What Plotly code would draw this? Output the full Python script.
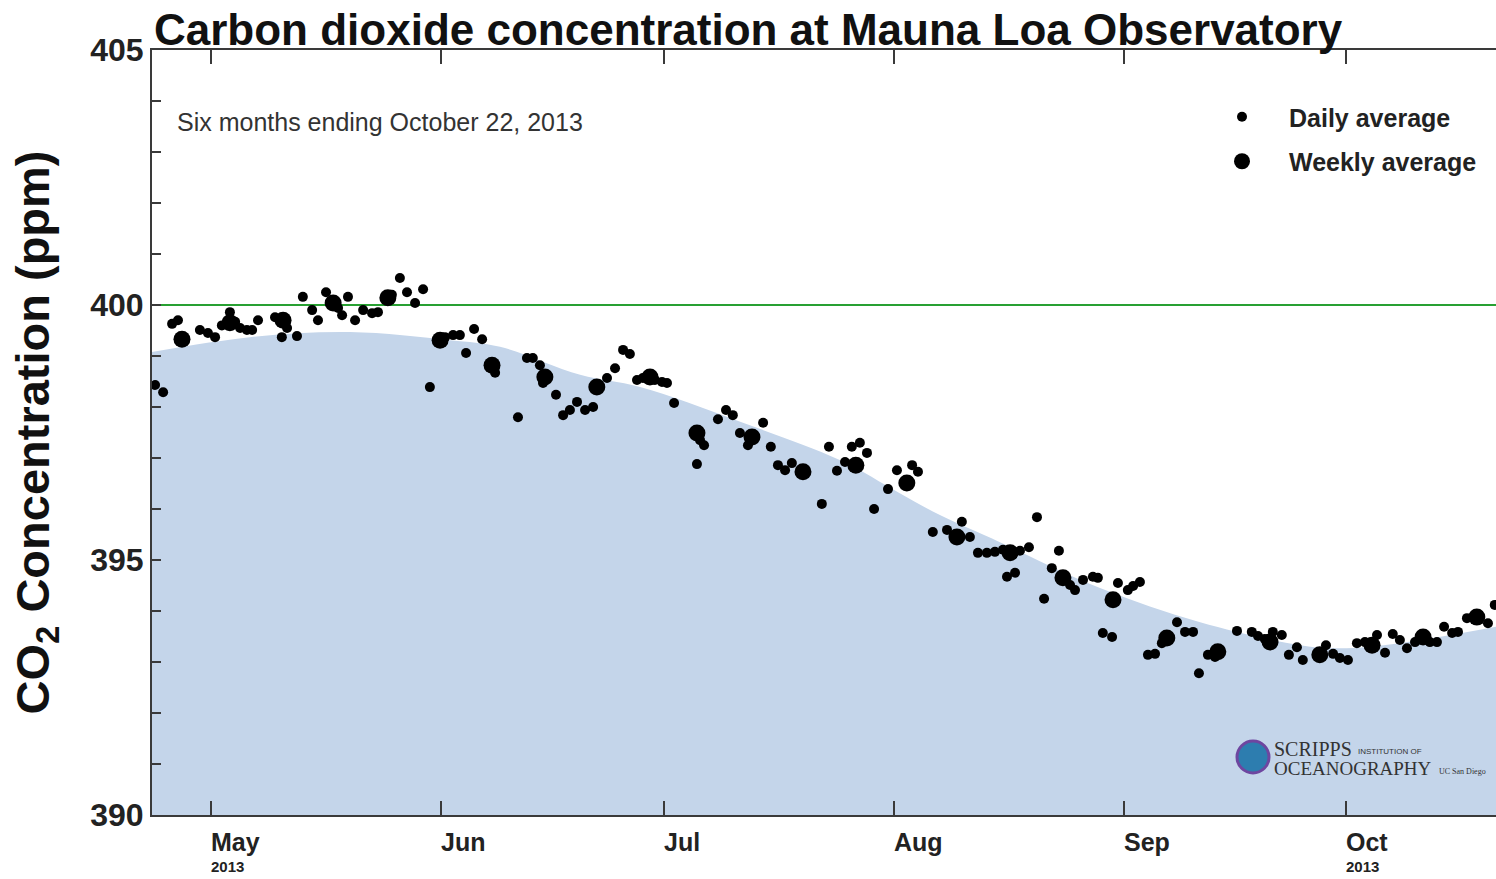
import plotly.graph_objects as go

# ---------------- data ----------------
daily_dates = [
    "2013-04-23 10:00", "2013-04-24 12:00", "2013-04-25 17:00", "2013-04-26 12:00",
    "2013-04-29 11:00", "2013-04-30 13:00", "2013-05-01 12:00", "2013-05-02 10:00",
    "2013-05-03 12:00", "2013-05-04 05:00", "2013-05-04 21:00", "2013-05-05 19:00",
    "2013-05-06 12:00", "2013-05-07 07:00", "2013-05-09 14:00", "2013-05-10 12:00",
    "2013-05-11 05:00", "2013-05-12 13:00", "2013-05-13 08:00", "2013-05-14 14:00",
    "2013-05-15 09:00", "2013-05-16 11:00", "2013-05-18 02:00", "2013-05-18 15:00",
    "2013-05-19 10:00", "2013-05-20 09:00", "2013-05-21 11:00", "2013-05-22 16:00",
    "2013-05-23 11:00", "2013-05-25 08:00", "2013-05-26 10:00", "2013-05-27 09:00",
    "2013-05-28 11:00", "2013-05-29 13:00", "2013-05-30 11:00", "2013-06-01 12:00",
    "2013-06-02 14:00", "2013-06-03 12:00", "2013-06-04 08:00", "2013-06-05 10:00",
    "2013-06-06 12:00", "2013-06-08 06:00", "2013-06-11 08:00", "2013-06-12 13:00",
    "2013-06-13 08:00", "2013-06-14 07:00", "2013-06-14 17:00", "2013-06-16 11:00",
    "2013-06-17 10:00", "2013-06-18 08:00", "2013-06-19 07:00", "2013-06-20 09:00",
    "2013-06-21 11:00", "2013-06-23 08:00", "2013-06-24 10:00", "2013-06-25 12:00",
    "2013-06-26 10:00", "2013-06-27 09:00", "2013-06-28 04:00", "2013-06-29 19:00",
    "2013-06-30 18:00", "2013-07-01 10:00", "2013-07-02 09:00", "2013-07-05 11:00",
    "2013-07-05 21:00", "2013-07-06 10:00", "2013-07-08 07:00", "2013-07-09 09:00",
    "2013-07-10 07:00", "2013-07-11 06:00", "2013-07-12 08:00", "2013-07-14 09:00",
    "2013-07-15 10:00", "2013-07-16 09:00", "2013-07-17 08:00", "2013-07-18 06:00",
    "2013-07-22 07:00", "2013-07-23 06:00", "2013-07-24 08:00", "2013-07-25 10:00",
    "2013-07-26 08:00", "2013-07-27 10:00", "2013-07-28 09:00", "2013-07-29 08:00",
    "2013-07-31 05:00", "2013-08-01 10:00", "2013-08-03 11:00", "2013-08-04 06:00",
    "2013-08-06 06:00", "2013-08-08 04:00", "2013-08-10 04:00", "2013-08-11 06:00",
    "2013-08-12 08:00", "2013-08-13 13:00", "2013-08-14 15:00", "2013-08-15 17:00",
    "2013-08-16 06:00", "2013-08-17 08:00", "2013-08-18 00:00", "2013-08-19 05:00",
    "2013-08-20 07:00", "2013-08-21 06:00", "2013-08-22 07:00", "2013-08-23 06:00",
    "2013-08-24 18:00", "2013-08-25 10:00", "2013-08-26 12:00", "2013-08-27 20:00",
    "2013-08-28 12:00", "2013-08-29 04:00", "2013-08-30 10:00", "2013-08-31 05:00",
    "2013-09-01 13:00", "2013-09-02 06:00", "2013-09-03 04:00", "2013-09-04 06:00",
    "2013-09-05 05:00", "2013-09-06 03:00", "2013-09-08 04:00", "2013-09-09 06:00",
    "2013-09-10 08:00", "2013-09-11 03:00", "2013-09-12 08:00", "2013-09-13 07:00",
    "2013-09-16 06:00", "2013-09-18 06:00", "2013-09-19 02:00", "2013-09-20 00:00",
    "2013-09-21 02:00", "2013-09-22 07:00", "2013-09-23 06:00", "2013-09-24 08:00",
    "2013-09-25 03:00", "2013-09-28 06:00", "2013-09-29 05:00", "2013-09-30 03:00",
    "2013-10-01 05:00", "2013-10-02 10:00", "2013-10-03 12:00", "2013-10-05 03:00",
    "2013-10-06 05:00", "2013-10-07 06:00", "2013-10-08 05:00", "2013-10-09 04:00",
    "2013-10-10 06:00", "2013-10-12 06:00", "2013-10-13 05:00", "2013-10-14 04:00",
    "2013-10-15 06:00", "2013-10-16 01:00", "2013-10-17 06:00", "2013-10-20 02:00",
    "2013-10-21 00:00",
]
daily_ppm = [
    398.43, 398.29, 399.63, 399.70,
    399.51, 399.45, 399.37, 399.60,
    399.86, 399.67, 399.55, 399.51,
    399.51, 399.70, 399.76, 399.37,
    399.55, 399.39, 400.16, 399.90,
    399.70, 400.25, 399.94, 399.80,
    400.16, 399.70, 399.90, 399.84,
    399.86, 400.20, 400.53, 400.25,
    400.04, 400.31, 398.39, 399.37,
    399.41, 399.41, 399.06, 399.53,
    399.33, 398.67, 397.80, 398.96,
    398.96, 398.82, 398.47, 398.24,
    397.84, 397.94, 398.10, 397.94,
    398.00, 398.57, 398.76, 399.12,
    399.04, 398.53, 398.57, 398.53,
    398.49, 398.47, 398.08, 396.88,
    397.35, 397.25, 397.76, 397.94,
    397.84, 397.49, 397.25, 397.69,
    397.22, 396.86, 396.76, 396.90,
    396.10, 397.22, 396.75, 396.92,
    397.22, 397.30, 397.10, 396.00,
    396.39, 396.76, 396.86, 396.73,
    395.55, 395.59, 395.75, 395.45,
    395.14, 395.14, 395.16, 395.20,
    394.67, 394.75, 395.18, 395.25,
    395.84, 394.24, 394.84, 395.18,
    394.51, 394.41, 394.61, 394.67,
    394.65, 393.57, 393.49, 394.55,
    394.41, 394.49, 394.57, 393.14,
    393.16, 393.37, 393.78, 393.59,
    393.59, 392.78, 393.14, 393.10,
    393.61, 393.59, 393.51, 393.45,
    393.59, 393.53, 393.14, 393.29,
    393.04, 393.33, 393.16, 393.08,
    393.04, 393.37, 393.39, 393.53,
    393.18, 393.55, 393.43, 393.27,
    393.39, 393.39, 393.39, 393.69,
    393.57, 393.59, 393.86, 393.76,
    394.12,
]

weekly_dates = [
    "2013-04-27 01:00", "2013-05-03 12:00", "2013-05-10 16:00", "2013-05-17 10:00",
    "2013-05-24 19:00", "2013-05-31 20:00", "2013-06-07 20:00", "2013-06-14 23:00",
    "2013-06-21 23:00", "2013-06-29 03:00", "2013-07-05 11:00", "2013-07-12 21:00",
    "2013-07-19 18:00", "2013-07-26 21:00", "2013-08-02 18:00", "2013-08-09 12:00",
    "2013-08-16 16:00", "2013-08-23 19:00", "2013-08-30 13:00", "2013-09-06 19:00",
    "2013-09-13 16:00", "2013-09-20 17:00", "2013-09-27 10:00", "2013-10-04 11:00",
    "2013-10-11 08:00", "2013-10-18 14:00",
]
weekly_ppm = [
    399.33, 399.65, 399.70, 400.04,
    400.14, 399.31, 398.82, 398.59,
    398.39, 398.59, 397.49, 397.41,
    396.73, 396.86, 396.51, 395.45,
    395.14, 394.65, 394.22, 393.47,
    393.20, 393.39, 393.14, 393.33,
    393.49, 393.88,
]

# smooth seasonal curve (shaded area)
curve_dates = [
    "2013-04-23 00:00", "2013-05-06 05:00", "2013-05-19 17:00", "2013-06-02 05:00",
    "2013-06-08 22:00", "2013-06-19 17:00", "2013-06-27 19:00", "2013-07-11 07:00",
    "2013-07-24 17:00", "2013-08-01 19:00", "2013-08-07 05:00", "2013-08-15 07:00",
    "2013-08-28 19:00", "2013-09-11 07:00", "2013-09-24 17:00", "2013-09-30 03:00",
    "2013-10-08 05:00", "2013-10-21 04:00",
]
curve_ppm = [
    399.08, 399.37, 399.47, 399.31,
    399.18, 398.63, 398.39, 397.71,
    396.96, 396.31, 395.88, 395.35,
    394.45, 393.78, 393.33, 393.27,
    393.37, 393.69,
]

month_starts = ["2013-05-01", "2013-06-01", "2013-07-01", "2013-08-01", "2013-09-01", "2013-10-01"]
month_labels = ["May", "Jun", "Jul", "Aug", "Sep", "Oct"]
year_label_months = ["2013-05-01", "2013-10-01"]
year_text = "2013"

x_range = ["2013-04-23 00:00", "2013-10-21 04:00"]
y_range = [390, 405]
y_major = [390, 395, 400, 405]
threshold = 400

title_text = "Carbon dioxide concentration at Mauna Loa Observatory"
subtitle_text = "Six months ending October 22, 2013"
ytitle_text = "CO<sub>2</sub> Concentration (ppm)"

# ---------------- figure ----------------
FONT = "Liberation Sans, Arial, Helvetica, sans-serif"
SERIF = "Liberation Serif, Times New Roman, serif"
AXIS = "#3a3a3a"

W, H = 1496, 879
ML, MT, MB = 152, 50, 64
PW, PH = W - ML, H - MT - MB


def px(xp):  # window pixel -> paper x
    return (xp - ML) / PW


def py(yp):  # window pixel -> paper y
    return (MT + PH - yp) / PH


fig = go.Figure()

fig.add_trace(go.Scatter(
    x=curve_dates, y=curve_ppm, mode="lines", line=dict(width=0, shape="spline", smoothing=1.0),
    fill="tozeroy", fillcolor="rgb(196,213,234)", showlegend=False, hoverinfo="skip",
))

fig.add_trace(go.Scatter(
    x=daily_dates, y=daily_ppm, mode="markers", name="Daily average",
    marker=dict(color="black", size=10, line=dict(width=0)), legendgroup="d",
))
fig.add_trace(go.Scatter(
    x=weekly_dates, y=weekly_ppm, mode="markers", name="Weekly average",
    marker=dict(color="black", size=17, line=dict(width=0)), legendgroup="w",
))

fig.add_shape(type="line", xref="paper", x0=0, x1=1, yref="y", y0=threshold, y1=threshold,
              line=dict(color="rgb(40,160,50)", width=2), layer="below")

# month labels (left aligned at the month start, as in the reference)
for d, lab in zip(month_starts, month_labels):
    fig.add_annotation(x=d, xref="x", y=0, yref="paper", yanchor="top", xanchor="left",
                       yshift=-11, xshift=-2, text="<b>%s</b>" % lab, showarrow=False,
                       font=dict(family=FONT, size=25, color="#222"))
for d in year_label_months:
    fig.add_annotation(x=d, xref="x", y=0, yref="paper", yanchor="top", xanchor="left",
                       yshift=-41, xshift=-2, text="<b>%s</b>" % year_text, showarrow=False,
                       font=dict(family=FONT, size=15, color="#222"))

# title and subtitle
fig.add_annotation(x=0, xref="paper", y=1, yref="paper", xanchor="left", yanchor="bottom",
                   yshift=-6, text="<b>%s</b>" % title_text, showarrow=False,
                   font=dict(family=FONT, size=44, color="#111"))
fig.add_annotation(x=px(175), xref="paper", y=py(122), yref="paper", xanchor="left", yanchor="middle",
                   text=subtitle_text, showarrow=False,
                   font=dict(family=FONT, size=25, color="#333"))

# Scripps logo (text)
fig.add_shape(type="circle", xref="paper", yref="paper", xsizemode="pixel", ysizemode="pixel",
              xanchor=px(1253), yanchor=py(757),
              x0=-16, x1=16, y0=-16, y1=16,
              fillcolor="rgb(45,125,175)", line=dict(color="rgb(110,70,160)", width=3))
fig.add_annotation(x=px(1272), xref="paper", y=py(749), yref="paper",
                   xanchor="left", yanchor="middle", text="SCRIPPS", showarrow=False,
                   font=dict(family=SERIF, size=20, color="#333"))
fig.add_annotation(x=px(1356), xref="paper", y=py(751), yref="paper",
                   xanchor="left", yanchor="middle", text="INSTITUTION OF", showarrow=False,
                   font=dict(family=FONT, size=8, color="#333"))
fig.add_annotation(x=px(1272), xref="paper", y=py(768), yref="paper",
                   xanchor="left", yanchor="middle", text="OCEANOGRAPHY", showarrow=False,
                   font=dict(family=SERIF, size=19, color="#333"))
fig.add_annotation(x=px(1437), xref="paper", y=py(771), yref="paper",
                   xanchor="left", yanchor="middle", text="UC San Diego", showarrow=False,
                   font=dict(family=SERIF, size=8, color="#333"))

fig.update_xaxes(
    type="date", range=x_range, tickvals=month_starts, showticklabels=False,
    ticks="inside", ticklen=14, tickwidth=2, tickcolor=AXIS,
    showline=True, linecolor=AXIS, linewidth=2, mirror="ticks",
    showgrid=False, zeroline=False,
)
fig.update_yaxes(
    range=y_range, tickvals=y_major, ticks="inside", ticklen=9, tickwidth=1.5, tickcolor=AXIS,
    minor=dict(dtick=1, ticks="inside", ticklen=9, tickwidth=1.5, tickcolor=AXIS, showgrid=False),
    showline=True, linecolor=AXIS, linewidth=2,
    showgrid=False, zeroline=False,
    tickfont=dict(family=FONT, size=32, color="#222", weight="bold"),
    title=dict(text="<b>%s</b>" % ytitle_text, standoff=26,
               font=dict(family=FONT, size=47, color="#111")),
)

fig.update_layout(
    width=W, height=H,
    margin=dict(l=ML, r=0, t=MT, b=MB, autoexpand=False),
    paper_bgcolor="white", plot_bgcolor="white",
    legend=dict(x=px(1195), y=py(94), xanchor="left", yanchor="top", bgcolor="rgba(0,0,0,0)",
                font=dict(family=FONT, size=25, color="#222", weight="bold"),
                itemwidth=84, tracegroupgap=9),
    showlegend=True,
)

# remove the default 8px page margin so the figure fills the window exactly
fig.write_html("out.html", config={"displayModeBar": False},
               post_script="document.body.style.margin='0';"
                           "document.documentElement.style.overflow='hidden';")
